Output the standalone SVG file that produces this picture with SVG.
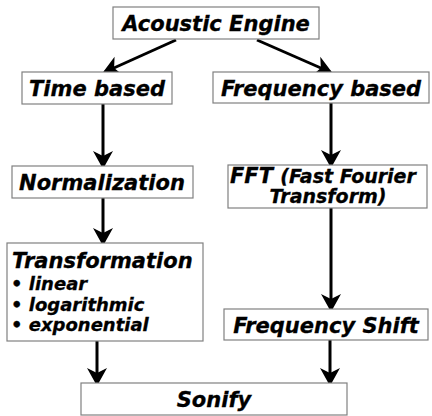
<svg xmlns="http://www.w3.org/2000/svg" width="432" height="416" viewBox="0 0 432 416">
<style>
.box{fill:#fff;stroke:#808080;stroke-width:1.2}
.t{font-family:"DejaVu Sans",Verdana,sans-serif;font-weight:bold;font-style:italic;font-size:21px;fill:#000;stroke:#000;stroke-width:0.3}
.c{text-anchor:middle}
.s{font-size:18px}
.m{font-size:19px}
.con{stroke:#000;stroke-width:3;fill:none;marker-end:url(#ah)}
</style>
<defs>
<marker id="ah" markerUnits="userSpaceOnUse" markerWidth="22" markerHeight="22" viewBox="0 -11 19 22" refX="15" refY="0" orient="auto">
<path d="M0,-10 L18,0 L0,10 L5,0 z" fill="#000"/>
</marker>
</defs>
<rect width="432" height="416" fill="#fff"/>
<g id="connectors">
<line class="con" x1="176" y1="40" x2="105" y2="72"/>
<line class="con" x1="257" y1="40" x2="330" y2="72"/>
<line class="con" x1="103" y1="104" x2="103" y2="166"/>
<line class="con" x1="103" y1="198" x2="103" y2="243"/>
<line class="con" x1="331" y1="103" x2="331" y2="165"/>
<line class="con" x1="331" y1="208" x2="331" y2="309"/>
<line class="con" x1="97" y1="341" x2="97" y2="383"/>
<line class="con" x1="330" y1="340" x2="330" y2="383"/>
</g>
<g id="acoustic">
<rect class="box" x="113" y="7" width="206" height="32"/>
<text class="t c" x="216" y="31">Acoustic Engine</text>
</g>
<g id="time">
<rect class="box" x="22" y="72" width="150" height="32"/>
<text class="t c" x="97" y="96">Time based</text>
</g>
<g id="freq">
<rect class="box" x="213" y="72" width="216" height="31"/>
<text class="t c" x="321" y="96">Frequency based</text>
</g>
<g id="norm">
<rect class="box" x="12" y="166" width="181" height="32"/>
<text class="t c" x="102" y="190">Normalization</text>
</g>
<g id="fft">
<rect class="box" x="228" y="165" width="199" height="43"/>
<text class="t" x="230" y="183" font-size="23">FFT <tspan class="m">(Fast Fourier</tspan></text>
<text class="t c m" x="328" y="203">Transform)</text>
</g>
<g id="transformation">
<rect class="box" x="7" y="243" width="196" height="98"/>
<text class="t" x="12" y="268">Transformation</text>
<text class="t s" x="11" y="290">• linear</text>
<text class="t s" x="11" y="311">• logarithmic</text>
<text class="t s" x="11" y="331">• exponential</text>
</g>
<g id="shift">
<rect class="box" x="224" y="309" width="204" height="31"/>
<text class="t c" x="326" y="333">Frequency Shift</text>
</g>
<g id="sonify">
<rect class="box" x="81" y="383" width="266" height="32"/>
<text class="t c" x="214" y="407">Sonify</text>
</g>
</svg>
